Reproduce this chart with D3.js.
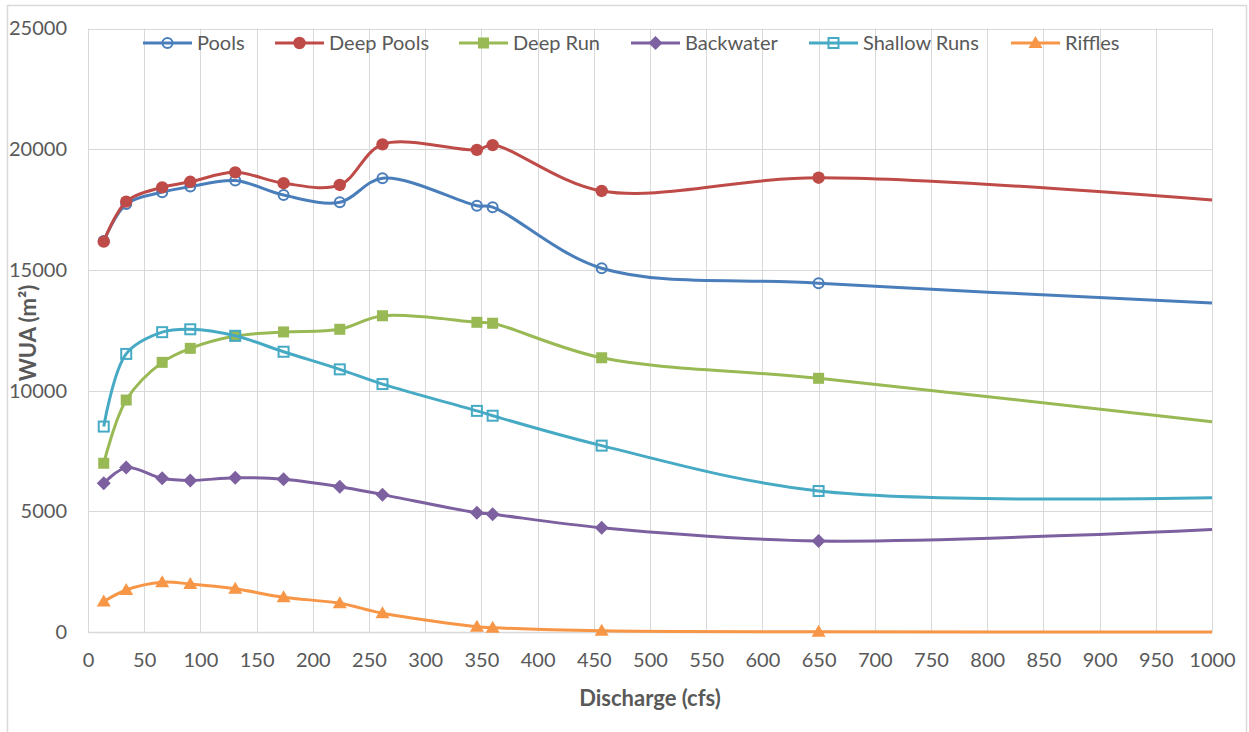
<!DOCTYPE html>
<html><head><meta charset="utf-8">
<script src="https://cdn.jsdelivr.net/npm/d3@7"></script>
<style>
body{margin:0;background:#fff}
svg text{font-family:Lato,"Open Sans",sans-serif;fill:#595959}
</style>
</head><body><svg id="c" width="1249" height="732"></svg>
<script>
// ---- data ----
const discharge   = [14, 34, 66, 91, 131, 174, 224, 262, 346, 360, 457, 650, 1000];
const seriesNames = ["Pools", "Deep Pools", "Deep Run", "Backwater", "Shallow Runs", "Riffles"];
const pools       = [16200, 17730, 18220, 18450, 18700, 18100, 17800, 18800, 17660, 17600, 15070, 14450, 13630];
const deepPools   = [16170, 17830, 18420, 18650, 19040, 18590, 18520, 20200, 19970, 20170, 18270, 18820, 17900];
const deepRun     = [6990, 9610, 11170, 11750, 12260, 12430, 12540, 13100, 12830, 12790, 11360, 10510, 8710];
const backwater   = [6160, 6810, 6370, 6280, 6390, 6330, 6020, 5690, 4940, 4880, 4320, 3770, 4250];
const shallowRuns = [8510, 11520, 12420, 12540, 12270, 11610, 10880, 10270, 9160, 8960, 7720, 5840, 5560];
const riffles     = [1260, 1740, 2060, 1990, 1790, 1440, 1190, 780, 220, 180, 50, 10, 5];
const xTicks = d3.range(0, 1001, 50);
const yTicks = [0, 5000, 10000, 15000, 20000, 25000];
const xTitle = "Discharge (cfs)";
const yTitle = "WUA (m²)";

// ---- styling ----
const colors  = ["#4a7ebb", "#be4b48", "#98b954", "#7d60a0", "#46aac5", "#f79646"];
const markers = ["circleOpen", "circle", "square", "diamond", "squareOpen", "triangle"];
const valuesBySeries = [pools, deepPools, deepRun, backwater, shallowRuns, riffles];

const m = {left: 88, right: 1212, top: 28.5, bottom: 632};
const svg = d3.select("#c");

svg.append("rect").attr("x", 7.5).attr("y", 5.5).attr("width", 1239).attr("height", 735)
  .attr("fill", "#fff").attr("stroke", "#d9d9d9").attr("stroke-width", 1.5);

const x = d3.scaleLinear().domain([0, 1000]).range([m.left, m.right]);
const y = d3.scaleLinear().domain([0, 25000]).range([m.bottom, m.top]);

// grid
const grid = svg.append("g");
grid.selectAll("line.v").data(xTicks).join("line")
  .attr("x1", d => Math.round(x(d)) + 0.5).attr("x2", d => Math.round(x(d)) + 0.5)
  .attr("y1", m.top).attr("y2", m.bottom)
  .attr("stroke", "#d9d9d9").attr("stroke-width", 1);
grid.selectAll("line.h").data(yTicks).join("line")
  .attr("x1", m.left).attr("x2", m.right)
  .attr("y1", d => Math.round(y(d)) + 0.5).attr("y2", d => Math.round(y(d)) + 0.5)
  .attr("stroke", "#d9d9d9").attr("stroke-width", 1);

// axes
const fs = 20;
const xAxis = svg.append("g").attr("transform", `translate(0,${m.bottom})`)
  .call(d3.axisBottom(x).tickValues(xTicks).tickSize(0).tickPadding(21).tickFormat(d3.format("d")));
xAxis.select(".domain").attr("stroke", "#d9d9d9").attr("stroke-width", 1.5);
xAxis.selectAll("text").style("font-size", fs + "px").attr("fill", "#595959");

const yAxis = svg.append("g").attr("transform", `translate(67,0)`)
  .call(d3.axisLeft(y).tickValues(yTicks).tickSize(0).tickPadding(0).tickFormat(d3.format("d")));
yAxis.select(".domain").remove();
yAxis.selectAll("text").style("font-size", fs + "px").attr("fill", "#595959");

// titles
svg.append("text").attr("x", 650).attr("y", 706).attr("text-anchor", "middle")
  .style("font-size", "22px").style("font-weight", "bold").text(xTitle);
svg.append("text").attr("transform", "translate(36,333) rotate(-90)").attr("text-anchor", "middle")
  .style("font-size", "22px").style("font-weight", "bold").text(yTitle);

// marker drawing
function drawMarker(sel, type, color) {
  switch (type) {
    case "circleOpen":
      sel.append("circle").attr("r", 5).attr("fill", "none").attr("stroke", color).attr("stroke-width", 2); break;
    case "circle":
      sel.append("circle").attr("r", 6.2).attr("fill", color); break;
    case "square":
      sel.append("rect").attr("x", -5.5).attr("y", -5.5).attr("width", 11).attr("height", 11).attr("fill", color); break;
    case "squareOpen":
      sel.append("rect").attr("x", -5).attr("y", -5).attr("width", 10).attr("height", 10)
        .attr("fill", "none").attr("stroke", color).attr("stroke-width", 2); break;
    case "diamond":
      sel.append("path").attr("d", "M0,-7L7,0L0,7L-7,0Z").attr("fill", color); break;
    case "triangle":
      sel.append("path").attr("d", "M0,-7L7,5L-7,5Z").attr("fill", color); break;
  }
}

const line = d3.line().x(d => x(d.x)).y(d => y(d.v)).curve(d3.curveCatmullRom.alpha(0.5));

// draw series
seriesNames.forEach((name, i) => {
  const pts = discharge.map((d, j) => ({x: d, v: valuesBySeries[i][j]}));
  const g = svg.append("g");
  g.append("path").datum(pts).attr("d", line).attr("fill", "none")
    .attr("stroke", colors[i]).attr("stroke-width", 3).attr("stroke-linejoin", "round");
  // markers at measured points (the last point lies on the axis edge and has none shown)
  pts.slice(0, pts.length - 1).forEach(p => {
    const mg = g.append("g").attr("transform", `translate(${x(p.x)},${y(p.v)})`);
    drawMarker(mg, markers[i], colors[i]);
  });
});

// legend
const legendX = [143, 275, 459, 631, 809, 1011];
const legendY = 43;
seriesNames.forEach((name, i) => {
  const lg = svg.append("g").attr("transform", `translate(${legendX[i]},${legendY})`);
  lg.append("line").attr("x1", 0).attr("x2", 49).attr("y1", 0).attr("y2", 0)
    .attr("stroke", colors[i]).attr("stroke-width", 3);
  const mg = lg.append("g").attr("transform", "translate(24.5,0)");
  drawMarker(mg, markers[i], colors[i]);
  lg.append("text").attr("x", 54).attr("y", 0).attr("dy", "0.35em")
    .style("font-size", fs + "px").text(name);
});
</script>
</body></html>
